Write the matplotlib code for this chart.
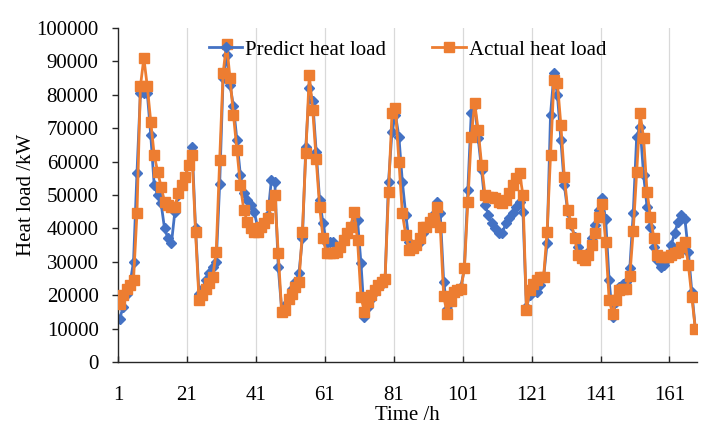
import matplotlib

matplotlib.use("Agg")
import matplotlib.pyplot as plt

hours = list(range(1, 169))

actual_load = [
    17300, 20000, 22000, 23000, 24500, 44500, 82500, 91000, 82500, 72000,
    62000, 57000, 52500, 48000, 47000, 46500, 46500, 50500, 53000, 55500,
    59000, 62000, 39000, 18700, 20000, 22000, 23800, 25500, 33000, 60500,
    86500, 95300, 85000, 74000, 63500, 53000, 45500, 42000, 40000, 39000,
    39000, 40500, 41500, 43000, 47000, 50000, 32500, 15000, 15500, 19000,
    20500, 22500, 24000, 39000, 62500, 86000, 75500, 60700, 46500, 37000,
    32500, 32500, 32500, 33000, 34500, 36500, 38500, 40500, 45000, 36500,
    19500, 15000, 18000, 20000, 21500, 23000, 24000, 25000, 51000, 74500,
    76000, 60000, 44500, 38000, 33500, 34000, 35000, 37000, 40500, 40500,
    42000, 43000, 46500, 40500, 19700, 14500, 18300, 21000, 21500, 22000,
    28000, 48000, 67500, 77500, 69500, 59000, 50000, 49500, 49500, 49000,
    48000, 47500, 48500, 50500, 53000, 55000, 56700, 50000, 15700, 21500,
    23500, 24500, 25500, 25500, 39000, 62000, 84500, 83500, 71000, 55500,
    45500, 41700, 37000, 32000, 31000, 30500, 32000, 35000, 38500, 43500,
    47300, 36000, 18700, 14500, 18500, 21700, 22000, 22000, 25700, 39300,
    57000, 74500, 67000, 51000, 43500, 37000, 32000, 31500, 31500, 31500,
    32000, 32500, 33000, 34500, 36000, 29000, 19500, 10000,
]

predict_load = [
    13000, 16500, 20500, 23500, 30000, 56500, 80500, 80500, 80500, 68000,
    53000, 50000, 47500, 40000, 37000, 35500, 45000, 50000, 53000, 55500,
    59000, 64500, 40000, 20500, 22000, 24500, 26500, 28500, 30000, 53300,
    85000, 92000, 83000, 76500, 66500, 56000, 50500, 48500, 47000, 45000,
    40500, 40500, 42000, 44000, 54500, 54000, 28500, 15500, 17000, 19500,
    22000, 24000, 26500, 37000, 64500, 82000, 78000, 63000, 48500, 41500,
    35500, 36000, 36000, 34500, 34500, 36500, 38500, 40500, 44000, 42500,
    29500, 13500, 16500, 19000, 21000, 22500, 23500, 25000, 54000, 69000,
    74000, 67500, 54000, 44000, 36000, 34000, 34500, 36000, 38500, 40000,
    41500, 44000, 48000, 44500, 24000, 16000, 18000, 20500, 21500, 22500,
    28000, 51500, 74500, 77000, 67000, 57500, 47000, 44000, 41500, 40000,
    38500, 38500, 41500, 43000, 44500, 46500, 48000, 45000, 16500, 20000,
    21500, 21000, 23000, 25500, 35500, 74000, 86500, 80000, 66500, 53000,
    45000, 41000, 37500, 34500, 31500, 30500, 33000, 37000, 41000, 45500,
    49000, 42700, 24500, 13500, 18000, 22500, 23500, 24000, 28000, 44500,
    67500, 70500, 56000, 46500, 40500, 34500, 30500, 28500, 29000, 31000,
    35000, 38500, 42000, 44000, 42700, 33000, 21000, 10000,
]

x_labels = [1, 21, 41, 61, 81, 101, 121, 141, 161]
y_ticks = list(range(0, 100001, 10000))

plt.rcParams["font.family"] = ["Liberation Serif", "DejaVu Serif"]

fig = plt.figure(figsize=(7.18, 4.25), dpi=100)
ax = fig.add_axes([118 / 718, 1 - 362 / 425, 579 / 718, 334 / 425])

# Excel category axis: ticks sit on slot boundaries
tick_pos = [v - 0.5 for v in x_labels]
for pos in tick_pos[1:]:
    ax.axvline(pos, color="#d9d9d9", linewidth=0.9, zorder=0)

ax.plot(hours, predict_load, color="#4472c4", linewidth=2.0, marker="D",
        markersize=5, label="Predict heat load", zorder=2)
ax.plot(hours, actual_load, color="#ed7d31", linewidth=2.0, marker="s",
        markersize=6.5, label="Actual heat load", zorder=3)

ax.set_xlim(0.5, 168.5)
ax.set_ylim(0, 100000)
ax.set_xticks(tick_pos)
ax.set_xticklabels([str(v) for v in x_labels])
ax.set_yticks(y_ticks)
ax.set_yticklabels([str(v) for v in y_ticks])

for side in ("top", "right"):
    ax.spines[side].set_visible(False)
for side in ("left", "bottom"):
    ax.spines[side].set_color("#262626")
    ax.spines[side].set_linewidth(1.0)

ax.tick_params(axis="x", direction="in", length=4, width=1.0, color="#262626",
               labelsize=15, pad=17)
ax.tick_params(axis="y", direction="out", length=4, width=1.0, color="#262626",
               labelsize=15, pad=10)

ax.set_xlabel("Time /h", fontsize=15, labelpad=1)
ax.set_ylabel("Heat load /kW", fontsize=15, labelpad=0)

ax.legend(loc="upper center", bbox_to_anchor=(0.5, 1.02), ncol=2, frameon=False,
          fontsize=15, handlelength=1.6, handletextpad=0.15, columnspacing=2.2)

fig.savefig("out.png", dpi=100)
plt.close(fig)
